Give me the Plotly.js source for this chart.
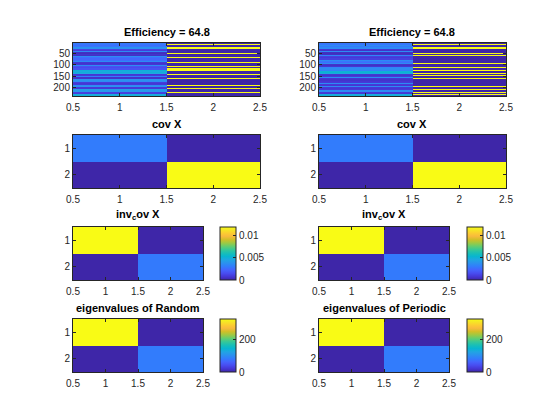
<!DOCTYPE html>
<html>
<head>
<meta charset="utf-8">
<script src="https://cdn.plot.ly/plotly-3.0.1.min.js"></script>
<style>
  html, body { margin: 0; padding: 0; background: #fff; }
  #chart { width: 560px; height: 420px; }
</style>
</head>
<body>
<div id="chart"></div>
<script>
// ---- data ----
// top row: 240 samples x 2 columns, read in bins of 5 samples
binCenters = [3,8,13,18,23,28,33,38,43,48,53,58,63,68,73,78,83,88,93,98,103,108,113,118,
              123,128,133,138,143,148,153,158,163,168,173,178,183,188,193,198,203,208,213,218,223,228,233,238]

randCol1 = [0.24,0.24,0.22,0.24,0.32,0.10,0.08,0.30,0.04,0.03,0.05,0.04,0.30,0.22,0.20,0.22,
            0.30,0.06,0.05,0.06,0.30,0.14,0.12,0.14,0.42,0.40,0.42,0.38,0.06,0.07,0.26,0.05,
            0.05,0.32,0.30,0.08,0.06,0.07,0.30,0.32,0.07,0.07,0.36,0.34,0.09,0.08,0.40,0.42]
randCol2 = [0,1,0,0,1,0,0,0,0,1,0,0,0,1,0,0,0,1,0,0,0,1,0,1,1,0,0,0,1,0,0,0,
            1,0,0,0,0,0,1,0,0,1,0,0,1,0,0,0]

perCol1 = [0.24,0.24,0.30,0.24,0.30,0.06,0.05,0.30,0.04,0.03,0.04,0.28,0.09,0.07,0.09,0.30,
           0.24,0.22,0.30,0.05,0.04,0.06,0.28,0.30,0.28,0.42,0.44,0.40,0.06,0.05,0.07,0.30,
           0.06,0.05,0.06,0.07,0.30,0.07,0.06,0.30,0.07,0.06,0.07,0.30,0.07,0.06,0.40,0.42]
perCol2 = [0,1,0,0,1,0,0,0,0,1,0,1,0,0,0,0,0,0,1,0,0,0,1,0,1,0,0,1,0,1,0,0,
           1,0,0,0,0,0,0,1,0,0,1,0,1,0,1,0]

efficiency = 64.8

covX = [[83, 0], [0, 328]]
invCovX = [[0.0120, 0], [0, 0.0030]]
eigRandom = [[328, 0], [0, 83]]
eigPeriodic = [[328, 0], [0, 83]]

xTicks = [0.5, 1, 1.5, 2, 2.5]
topYTicks = [50, 100, 150, 200]
smallYTicks = [1, 2]
invTicks = [0, 0.005, 0.01]
eigTicks = [0, 200]

// ---- styling ----
W = 560
H = 420
ink = 'rgb(38,38,38)'
fontFam = 'Liberation Sans, Arial, Helvetica, sans-serif'

parulaStops = [
  [0.2422,0.1504,0.6603],[0.2706,0.2147,0.8364],[0.2813,0.3006,0.9414],[0.2699,0.3892,0.9906],
  [0.1963,0.4847,0.9892],[0.1687,0.5703,0.9359],[0.1248,0.6459,0.8883],[0.0297,0.7082,0.8163],
  [0.0964,0.7500,0.7120],[0.2161,0.7843,0.5923],[0.3909,0.8029,0.4354],[0.6174,0.7876,0.2612],
  [0.8203,0.7498,0.1535],[0.9728,0.7298,0.2394],[0.9892,0.8136,0.1885],[0.9597,0.9135,0.1423],
  [0.9769,0.9839,0.0805]]
parulaPos = [0,4,8,12,16,20,24,28,32,36,40,44,48,52,56,60,63]
parula = parulaStops.map((c, i) => [parulaPos[i] / 63,
  'rgb(' + c.map(v => Math.round(v * 255)).join(',') + ')'])

// pixel boxes of the axes
rowTops = [43, 135, 227, 319]
rowH = 53
colLeft = [73, 319]
wideW = 187
narrowW = 130
cbarLeft = [220, 467]

xdom = (l, w) => [l / W, (l + w) / W]
ydom = (t) => [1 - (t + rowH) / H, 1 - t / H]

axisBase = () => ({
  showline: true, mirror: 'ticks', linecolor: ink, linewidth: 1,
  ticks: 'inside', ticklen: 3, tickcolor: ink,
  tickfont: {family: fontFam, size: 10, color: ink},
  showgrid: false, zeroline: false, fixedrange: true
})

panels = [
  {title: 'Efficiency = ' + efficiency, z: binCenters.map((_, i) => [randCol1[i], randCol2[i]]), y: binCenters, row: 0, col: 0},
  {title: 'Efficiency = ' + efficiency, z: binCenters.map((_, i) => [perCol1[i], perCol2[i]]), y: binCenters, row: 0, col: 1},
  {title: 'cov X', z: covX, y: [1, 2], row: 1, col: 0},
  {title: 'cov X', z: covX, y: [1, 2], row: 1, col: 1},
  {title: 'inv<sub>c</sub>ov X', z: invCovX, y: [1, 2], row: 2, col: 0, cticks: invTicks},
  {title: 'inv<sub>c</sub>ov X', z: invCovX, y: [1, 2], row: 2, col: 1, cticks: invTicks},
  {title: 'eigenvalues of Random', z: eigRandom, y: [1, 2], row: 3, col: 0, cticks: eigTicks},
  {title: 'eigenvalues of Periodic', z: eigPeriodic, y: [1, 2], row: 3, col: 1, cticks: eigTicks}
]

traces = []
layout = {
  width: W, height: H,
  margin: {l: 0, r: 0, t: 0, b: 0},
  paper_bgcolor: '#fff', plot_bgcolor: '#fff',
  showlegend: false,
  annotations: []
}

panels.forEach((p, k) => {
  n = k + 1
  sfx = n === 1 ? '' : String(n)
  w = p.row >= 2 ? narrowW : wideW
  xd = xdom(colLeft[p.col], w)
  yd = ydom(rowTops[p.row])

  tr = {
    type: 'heatmap',
    x: [1, 2], y: p.y, z: p.z,
    colorscale: parula,
    zsmooth: false,
    hoverinfo: 'skip',
    xaxis: 'x' + sfx, yaxis: 'y' + sfx,
    showscale: !!p.cticks
  }
  if (p.cticks) {
    tr.zmin = 0
    tr.colorbar = {
      x: cbarLeft[p.col] / W, xanchor: 'left',
      y: (yd[0] + yd[1]) / 2, yanchor: 'middle',
      len: rowH, lenmode: 'pixels',
      thickness: 16, thicknessmode: 'pixels',
      xpad: 0, ypad: 0,
      outlinewidth: 1, outlinecolor: ink,
      ticks: 'inside', ticklen: 3, tickcolor: ink,
      tickvals: p.cticks,
      tickfont: {family: fontFam, size: 10, color: ink}
    }
  }
  traces.push(tr)

  xa = Object.assign(axisBase(), {domain: xd, range: [0.5, 2.5], tickvals: xTicks,
                                  anchor: 'y' + sfx, ticklabelstandoff: 2})
  ya = Object.assign(axisBase(), {domain: yd, anchor: 'x' + sfx})
  if (p.row === 0) {
    ya.range = [240.5, 0.5]
    ya.tickvals = topYTicks
  } else {
    ya.range = [2.5, 0.5]
    ya.tickvals = smallYTicks
  }
  layout['xaxis' + sfx] = xa
  layout['yaxis' + sfx] = ya

  layout.annotations.push({
    text: '<b>' + p.title + '</b>',
    xref: 'paper', yref: 'paper',
    x: (xd[0] + xd[1]) / 2, y: yd[1],
    xanchor: 'center', yanchor: 'bottom', yshift: 3,
    showarrow: false,
    font: {family: fontFam, size: 11, color: '#000'}
  })
})

Plotly.newPlot('chart', traces, layout, {displayModeBar: false, staticPlot: true})
</script>
</body>
</html>
